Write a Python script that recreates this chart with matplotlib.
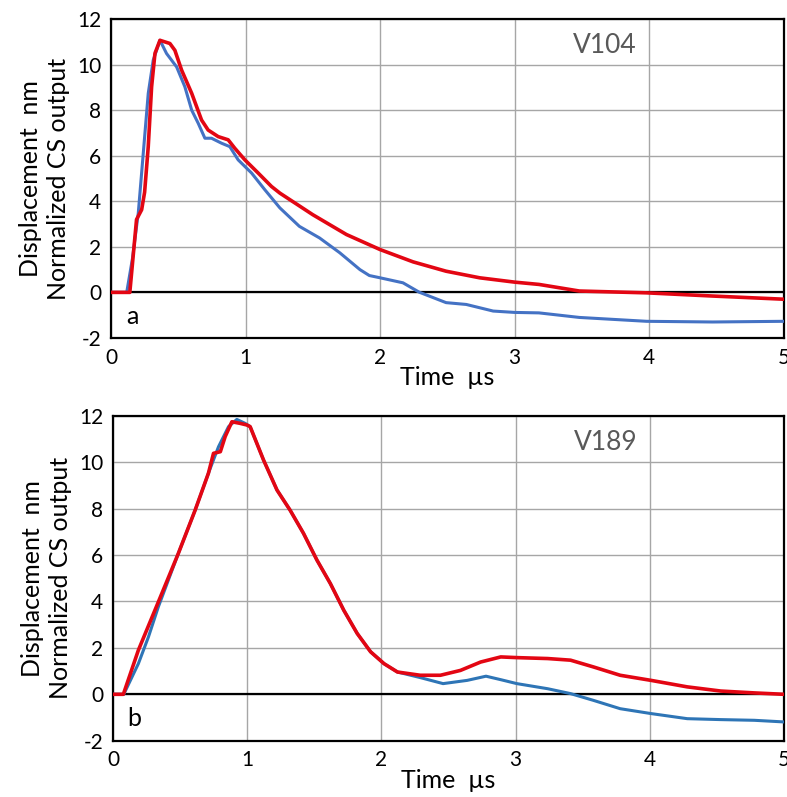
import matplotlib
matplotlib.use("Agg")
import matplotlib.pyplot as plt

plt.rcParams['font.family'] = ['Lato', 'DejaVu Sans']
plt.rcParams['axes.unicode_minus'] = False

# Panel a (V104)
a_blue_t = [0.0, 0.117, 0.16, 0.203, 0.24, 0.277, 0.314, 0.364, 0.413, 0.45, 0.488, 0.549, 0.60, 0.648,
            0.698, 0.747, 0.822, 0.883, 0.945, 1.045, 1.143, 1.255, 1.40, 1.55, 1.70, 1.85, 1.92,
            2.00, 2.17, 2.29, 2.49, 2.64, 2.84, 3.00, 3.18, 3.48, 3.98, 4.47, 5.00]
a_blue_v = [0.0, 0.0, 1.5, 3.49, 6.11, 8.74, 10.2, 11.07, 10.49, 10.2, 9.9, 9.03, 8.0, 7.43,
            6.77, 6.77, 6.55, 6.4, 5.82, 5.24, 4.51, 3.71, 2.9, 2.39, 1.74, 1.0, 0.74,
            0.64, 0.42, 0.01, -0.45, -0.53, -0.82, -0.88, -0.9, -1.1, -1.27, -1.3, -1.27]
a_red_t = [0.0, 0.14, 0.19, 0.228, 0.25, 0.277, 0.302, 0.327, 0.364, 0.438, 0.475, 0.525, 0.60, 0.673,
           0.722, 0.797, 0.871, 0.92, 0.995, 1.094, 1.193, 1.255, 1.50, 1.75, 2.00, 2.245, 2.49,
           2.74, 3.00, 3.18, 3.48, 3.98, 4.47, 5.00]
a_red_v = [0.0, 0.0, 3.2, 3.63, 4.4, 6.4, 9.03, 10.5, 11.07, 10.93, 10.63, 9.76, 8.74, 7.57,
           7.13, 6.84, 6.70, 6.33, 5.82, 5.24, 4.65, 4.36, 3.41, 2.54, 1.88, 1.34, 0.93,
           0.64, 0.45, 0.35, 0.06, -0.02, -0.16, -0.3]

# Panel b (V189)
b_blue_t = [0.0, 0.08, 0.189, 0.264, 0.338, 0.487, 0.612, 0.711, 0.786, 0.861, 0.923, 0.985, 1.022,
            1.122, 1.222, 1.32, 1.42, 1.52, 1.62, 1.72, 1.82, 1.92, 2.02, 2.12, 2.29, 2.46, 2.64,
            2.78, 2.89, 3.01, 3.24, 3.41, 3.58, 3.78, 4.01, 4.28, 4.53, 4.78, 5.00]
b_blue_v = [0.0, 0.0, 1.32, 2.47, 3.77, 6.07, 7.93, 9.52, 10.66, 11.53, 11.84, 11.67, 11.53,
            10.09, 8.8, 7.93, 6.93, 5.78, 4.77, 3.62, 2.62, 1.83, 1.32, 0.96, 0.72, 0.46, 0.6,
            0.78, 0.63, 0.46, 0.24, 0.03, -0.26, -0.62, -0.83, -1.05, -1.09, -1.12, -1.19]
b_red_t = [0.0, 0.077, 0.189, 0.338, 0.487, 0.612, 0.711, 0.749, 0.80, 0.836, 0.886, 0.948, 0.998,
           1.022, 1.122, 1.222, 1.32, 1.42, 1.52, 1.62, 1.72, 1.82, 1.92, 2.02, 2.12, 2.29, 2.44,
           2.59, 2.74, 2.89, 3.01, 3.24, 3.41, 3.58, 3.78, 4.01, 4.28, 4.53, 4.78, 5.00]
b_red_v = [0.0, 0.0, 1.9, 3.98, 6.07, 7.93, 9.52, 10.38, 10.45, 11.1, 11.74, 11.67, 11.6,
           11.53, 10.09, 8.8, 7.93, 6.93, 5.78, 4.77, 3.62, 2.62, 1.83, 1.32, 0.96, 0.82, 0.82,
           1.03, 1.39, 1.61, 1.58, 1.54, 1.47, 1.18, 0.82, 0.6, 0.32, 0.14, 0.06, 0.0]

x_ticks = [0, 1, 2, 3, 4, 5]
y_ticks = [-2, 0, 2, 4, 6, 8, 10, 12]

fig = plt.figure(figsize=(7.87, 7.97), dpi=100)
ax1 = fig.add_axes([0.141, 0.576, 0.855, 0.400])
ax2 = fig.add_axes([0.1436, 0.0706, 0.8524, 0.4078])

panels = [
    (ax1, a_blue_t, a_blue_v, a_red_t, a_red_v, '#4472C4', 'V104', 'a'),
    (ax2, b_blue_t, b_blue_v, b_red_t, b_red_v, '#2E75B6', 'V189', 'b'),
]

for ax, bt, bv, rt, rv, bcol, name, letter in panels:
    ax.set_xlim(0, 5)
    ax.set_ylim(-2, 12)
    ax.set_xticks(x_ticks)
    ax.set_yticks(y_ticks)
    ax.grid(True, color='#A6A6A6', lw=1.0)
    ax.set_axisbelow(True)
    ax.axhline(0, color='black', lw=1.6, zorder=2)
    ax.plot(bt, bv, color=bcol, lw=2.2, zorder=3, solid_joinstyle='round')
    ax.plot(rt, rv, color='#E30613', lw=2.6, zorder=4, solid_joinstyle='round')
    for s in ax.spines.values():
        s.set_linewidth(1.6)
        s.set_color('black')
    ax.tick_params(length=0, labelsize=15, pad=7)
    ax.set_xlabel('Time  µs', fontsize=18, labelpad=-1)
    ax.set_ylabel('Displacement  nm\nNormalized CS output', fontsize=18, labelpad=5, linespacing=1.25)
    ax.text(3.67, 10.85, name, fontsize=19, color='#595959', ha='center', va='center')
    ax.text(0.16, -1.05, letter, fontsize=18, color='black', ha='center', va='center')

fig.savefig('out.png', dpi=100)
